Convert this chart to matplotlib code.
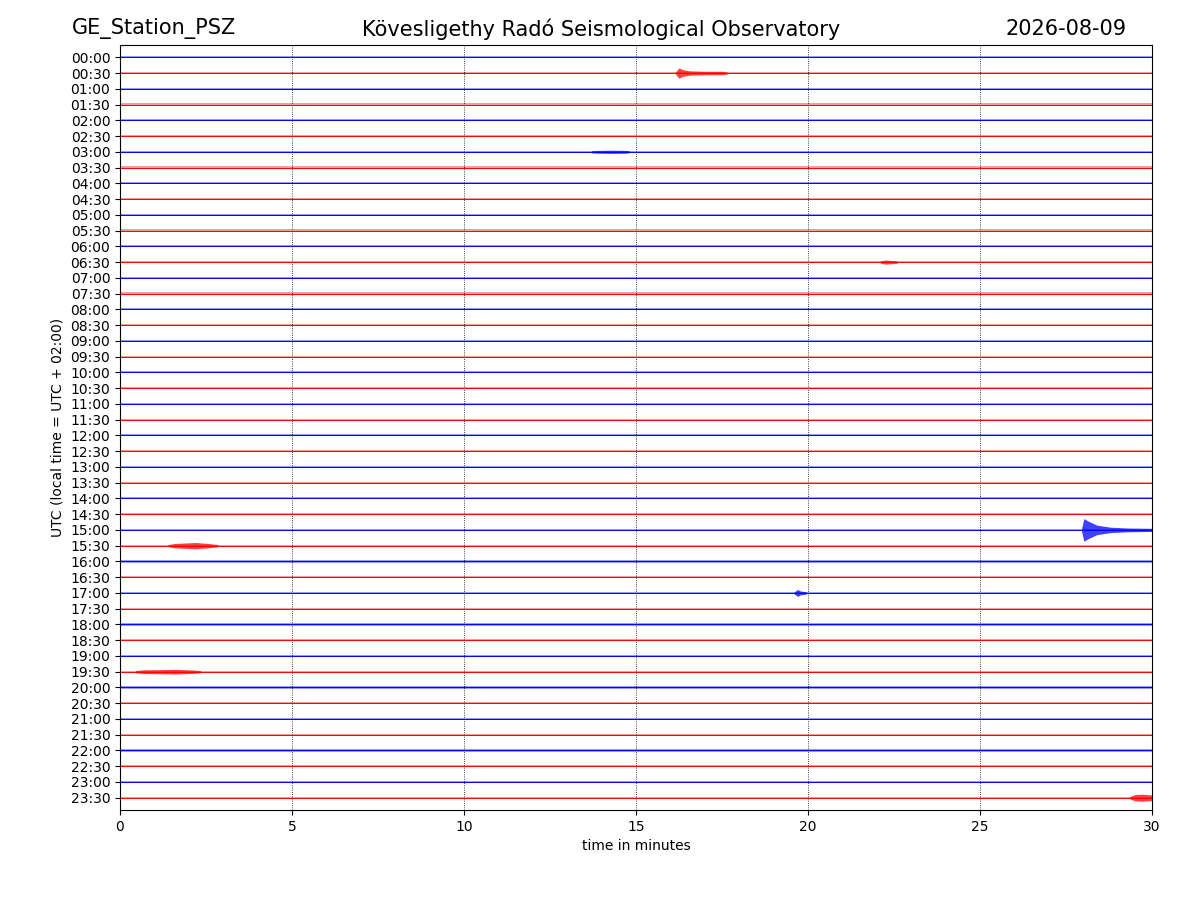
import matplotlib
matplotlib.use("Agg")
import matplotlib.pyplot as plt
import numpy as np

station = "GE_Station_PSZ"
observatory = "Kövesligethy Radó Seismological Observatory"
date_label = "2026-08-09"

# trace labels (one trace per 30 minutes)
row_labels = ["%02d:%02d" % (h, m) for h in range(24) for m in (0, 30)]
trace_colors = ["#0000ff", "#ff0000"]

# background noise half-amplitude (fraction of trace spacing), same for all rows
noise_amp = 0.07

# events: row index -> (times in minutes, half-amplitudes in trace units)
events = {
    1:  ([16.15, 16.25, 16.35, 16.55, 17.0, 17.5, 17.65], [0.07, 0.33, 0.22, 0.14, 0.11, 0.11, 0.07]),
    6:  ([13.7, 13.9, 14.3, 14.7, 14.8], [0.07, 0.09, 0.1, 0.09, 0.07]),
    13: ([22.1, 22.25, 22.45, 22.6], [0.07, 0.13, 0.1, 0.07]),
    30: ([27.95, 28.02, 28.15, 28.4, 28.8, 29.3, 30.0], [0.07, 0.72, 0.55, 0.3, 0.17, 0.12, 0.1]),
    31: ([1.4, 1.6, 2.0, 2.2, 2.6, 2.85], [0.07, 0.14, 0.18, 0.2, 0.13, 0.07]),
    34: ([19.6, 19.7, 19.78, 19.95], [0.07, 0.22, 0.12, 0.07]),
    39: ([0.45, 0.7, 1.2, 1.6, 2.1, 2.35], [0.07, 0.12, 0.13, 0.15, 0.11, 0.07]),
    47: ([29.35, 29.5, 29.7, 30.0], [0.07, 0.2, 0.22, 0.18]),
}

fig = plt.figure(figsize=(12, 9), dpi=100)
ax = fig.add_axes([0.1, 0.1, 0.86, 0.85])

n = len(row_labels)
t_full = np.array([0.0, 30.0])
for i in range(n):
    c = trace_colors[i % 2]
    ax.fill_between(t_full, i - noise_amp, i + noise_amp, color=c, lw=0, alpha=0.4)
    ax.plot(t_full, [i, i], color=c, lw=0.7)
    if i in events:
        tt, aa = events[i]
        tt = np.array(tt); aa = np.array(aa)
        ax.fill_between(tt, i - aa, i + aa, color=c, lw=0, alpha=0.75)

ax.set_xlim(0, 30)
ax.set_ylim(n - 1 + 0.78, -0.78)
ax.set_yticks(range(n))
ax.set_yticklabels(row_labels)
ax.set_xticks(range(0, 31, 5))
ax.xaxis.grid(True, linestyle=":", color="black", lw=0.6)
ax.set_xlabel("time in minutes")
ax.set_ylabel("UTC (local time = UTC + 02:00)")

fig.text(0.06, 0.968, station, fontsize=15, ha="left", va="center")
fig.text(0.501, 0.968, observatory, fontsize=15, ha="center", va="center")
fig.text(0.939, 0.968, date_label, fontsize=15, ha="right", va="center")

fig.savefig("out.png", dpi=100)
